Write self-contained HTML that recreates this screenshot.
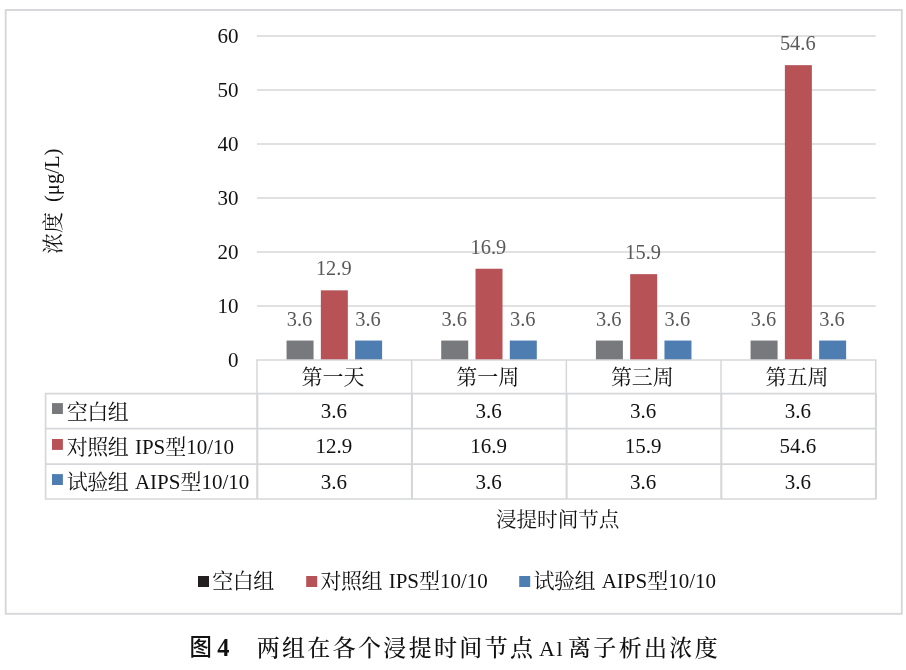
<!DOCTYPE html>
<html lang="zh-CN"><head><meta charset="utf-8"><title>图4 两组在各个浸提时间节点Al离子析出浓度</title>
<style>
html,body{margin:0;padding:0;background:#fff;}
body{width:906px;height:670px;overflow:hidden;}
svg{display:block;}
text{font-family:"Liberation Serif", "Noto Serif CJK SC", serif;font-size:21px;fill:#111;}
.ax{font-size:21px;}
.dl{font-size:20.4px;fill:#595959;}
.c{letter-spacing:-0.5px;}
.ln{stroke:#D6D7DA;stroke-width:1.7;fill:none;}
.cap{font-size:23px;letter-spacing:2.33px;font-weight:500;}
</style></head><body>
<svg width="906" height="670" viewBox="0 0 906 670">
<rect x="0" y="0" width="906" height="670" fill="#fff"/>
<rect class="ln" x="5.7" y="10" width="896.1" height="603.8" style="stroke-width:1.9"/>
<line class="ln" x1="257.0" y1="306.00" x2="875.7" y2="306.00"/>
<line class="ln" x1="257.0" y1="252.00" x2="875.7" y2="252.00"/>
<line class="ln" x1="257.0" y1="198.00" x2="875.7" y2="198.00"/>
<line class="ln" x1="257.0" y1="144.00" x2="875.7" y2="144.00"/>
<line class="ln" x1="257.0" y1="90.00" x2="875.7" y2="90.00"/>
<line class="ln" x1="257.0" y1="36.00" x2="875.7" y2="36.00"/>
<rect x="286.56" y="340.56" width="26.99" height="19.44" fill="#78797D"/>
<text class="dl" text-anchor="middle" x="299.46" y="325.56">3.6</text>
<rect x="320.84" y="290.34" width="26.99" height="69.66" fill="#B75257"/>
<text class="dl" text-anchor="middle" x="333.74" y="275.34">12.9</text>
<rect x="355.12" y="340.56" width="26.99" height="19.44" fill="#4E7DB2"/>
<text class="dl" text-anchor="middle" x="368.02" y="325.56">3.6</text>
<rect x="441.23" y="340.56" width="26.99" height="19.44" fill="#78797D"/>
<text class="dl" text-anchor="middle" x="454.13" y="325.56">3.6</text>
<rect x="475.52" y="268.74" width="26.99" height="91.26" fill="#B75257"/>
<text class="dl" text-anchor="middle" x="488.41" y="253.74">16.9</text>
<rect x="509.80" y="340.56" width="26.99" height="19.44" fill="#4E7DB2"/>
<text class="dl" text-anchor="middle" x="522.69" y="325.56">3.6</text>
<rect x="595.91" y="340.56" width="26.99" height="19.44" fill="#78797D"/>
<text class="dl" text-anchor="middle" x="608.81" y="325.56">3.6</text>
<rect x="630.19" y="274.14" width="26.99" height="85.86" fill="#B75257"/>
<text class="dl" text-anchor="middle" x="643.09" y="259.14">15.9</text>
<rect x="664.47" y="340.56" width="26.99" height="19.44" fill="#4E7DB2"/>
<text class="dl" text-anchor="middle" x="677.37" y="325.56">3.6</text>
<rect x="750.58" y="340.56" width="26.99" height="19.44" fill="#78797D"/>
<text class="dl" text-anchor="middle" x="763.48" y="325.56">3.6</text>
<rect x="784.87" y="65.16" width="26.99" height="294.84" fill="#B75257"/>
<text class="dl" text-anchor="middle" x="797.76" y="50.16">54.6</text>
<rect x="819.15" y="340.56" width="26.99" height="19.44" fill="#4E7DB2"/>
<text class="dl" text-anchor="middle" x="832.04" y="325.56">3.6</text>
<line class="ln" x1="256.2" y1="360.00" x2="876.5" y2="360.00"/>
<line class="ln" x1="44.9" y1="393.70" x2="876.5" y2="393.70"/>
<line class="ln" x1="44.9" y1="428.60" x2="876.5" y2="428.60"/>
<line class="ln" x1="44.9" y1="464.10" x2="876.5" y2="464.10"/>
<line class="ln" x1="44.9" y1="499.00" x2="876.5" y2="499.00"/>
<line class="ln" x1="45.6" y1="393.70" x2="45.6" y2="499.00"/>
<line class="ln" x1="257.00" y1="360.00" x2="257.00" y2="393.70" style="stroke-width:1.5"/>
<line class="ln" x1="257.25" y1="393.70" x2="257.25" y2="499.00" style="stroke-width:2.1"/>
<line class="ln" x1="411.68" y1="360.00" x2="411.68" y2="393.70" style="stroke-width:1.5"/>
<line class="ln" x1="411.93" y1="393.70" x2="411.93" y2="499.00" style="stroke-width:2.1"/>
<line class="ln" x1="566.35" y1="360.00" x2="566.35" y2="393.70" style="stroke-width:1.5"/>
<line class="ln" x1="566.60" y1="393.70" x2="566.60" y2="499.00" style="stroke-width:2.1"/>
<line class="ln" x1="721.03" y1="360.00" x2="721.03" y2="393.70" style="stroke-width:1.5"/>
<line class="ln" x1="721.28" y1="393.70" x2="721.28" y2="499.00" style="stroke-width:2.1"/>
<line class="ln" x1="875.70" y1="360.00" x2="875.70" y2="393.70" style="stroke-width:1.5"/>
<line class="ln" x1="875.95" y1="393.70" x2="875.95" y2="499.00" style="stroke-width:2.1"/>
<text class="ax" text-anchor="end" x="238.6" y="367.30">0</text>
<text class="ax" text-anchor="end" x="238.6" y="313.30">10</text>
<text class="ax" text-anchor="end" x="238.6" y="259.30">20</text>
<text class="ax" text-anchor="end" x="238.6" y="205.30">30</text>
<text class="ax" text-anchor="end" x="238.6" y="151.30">40</text>
<text class="ax" text-anchor="end" x="238.6" y="97.30">50</text>
<text class="ax" text-anchor="end" x="238.6" y="43.30">60</text>
<text transform="translate(60.3,254.1) rotate(-90)" x="0" y="0">浓度<tspan dx="10.1" dy="-1.2" style="font-size:20.6px">(μg/L)</tspan></text>
<text text-anchor="middle" x="333.04" y="384.00">第一天</text>
<text text-anchor="middle" x="487.71" y="384.00">第一周</text>
<text text-anchor="middle" x="642.39" y="384.00">第三周</text>
<text text-anchor="middle" x="797.06" y="384.00">第五周</text>
<text text-anchor="middle" x="333.84" y="418.30">3.6</text>
<text text-anchor="middle" x="488.51" y="418.30">3.6</text>
<text text-anchor="middle" x="643.19" y="418.30">3.6</text>
<text text-anchor="middle" x="797.86" y="418.30">3.6</text>
<text text-anchor="middle" x="333.84" y="453.20">12.9</text>
<text text-anchor="middle" x="488.51" y="453.20">16.9</text>
<text text-anchor="middle" x="643.19" y="453.20">15.9</text>
<text text-anchor="middle" x="797.86" y="453.20">54.6</text>
<text text-anchor="middle" x="333.84" y="488.70">3.6</text>
<text text-anchor="middle" x="488.51" y="488.70">3.6</text>
<text text-anchor="middle" x="643.19" y="488.70">3.6</text>
<text text-anchor="middle" x="797.86" y="488.70">3.6</text>
<rect x="52" y="403.10" width="10.9" height="10.9" fill="#78797D"/>
<text x="66.7" y="418.60" xml:space="preserve"><tspan class="c">空白组</tspan></text>
<rect x="52" y="439.00" width="10.9" height="10.9" fill="#B75257"/>
<text x="66.7" y="453.50" xml:space="preserve"><tspan class="c">对照组</tspan><tspan dx="1.5"> IPS型10/10</tspan></text>
<rect x="52" y="474.10" width="10.9" height="10.9" fill="#4E7DB2"/>
<text x="66.7" y="489.00" xml:space="preserve"><tspan class="c">试验组</tspan><tspan dx="1.5"> AIPS型10/10</tspan></text>
<text text-anchor="middle" x="557.7" y="527.3" style="font-size:20.6px">浸提时间节点</text>
<rect x="198.0" y="576" width="11" height="11" fill="#231F20"/>
<text x="212.2" y="588.2" xml:space="preserve"><tspan class="c">空白组</tspan></text>
<rect x="306.2" y="576" width="11" height="11" fill="#B75257"/>
<text x="320.4" y="588.2" xml:space="preserve"><tspan class="c">对照组</tspan><tspan dx="1.5"> IPS型10/10</tspan></text>
<rect x="519.2" y="576" width="11" height="11" fill="#4E7DB2"/>
<text x="533.4" y="588.2" xml:space="preserve"><tspan class="c">试验组</tspan><tspan dx="1.5"> AIPS型10/10</tspan></text>
<text x="189.6" y="655.2" style="font-family:'Liberation Sans','Noto Sans CJK SC',sans-serif;font-weight:500;font-size:22.4px;fill:#111">图</text>
<text x="217.3" y="655.7" style="font-weight:bold;font-size:24.4px;fill:#111">4</text>
<text class="cap" x="256.7" y="655.7">两组在各个浸提时间节点</text>
<text x="538.9" y="655.7" style="font-size:22px;letter-spacing:1.8px">Al</text>
<text class="cap" x="568.0" y="655.7">离子析出浓度</text>
</svg>
</body></html>
